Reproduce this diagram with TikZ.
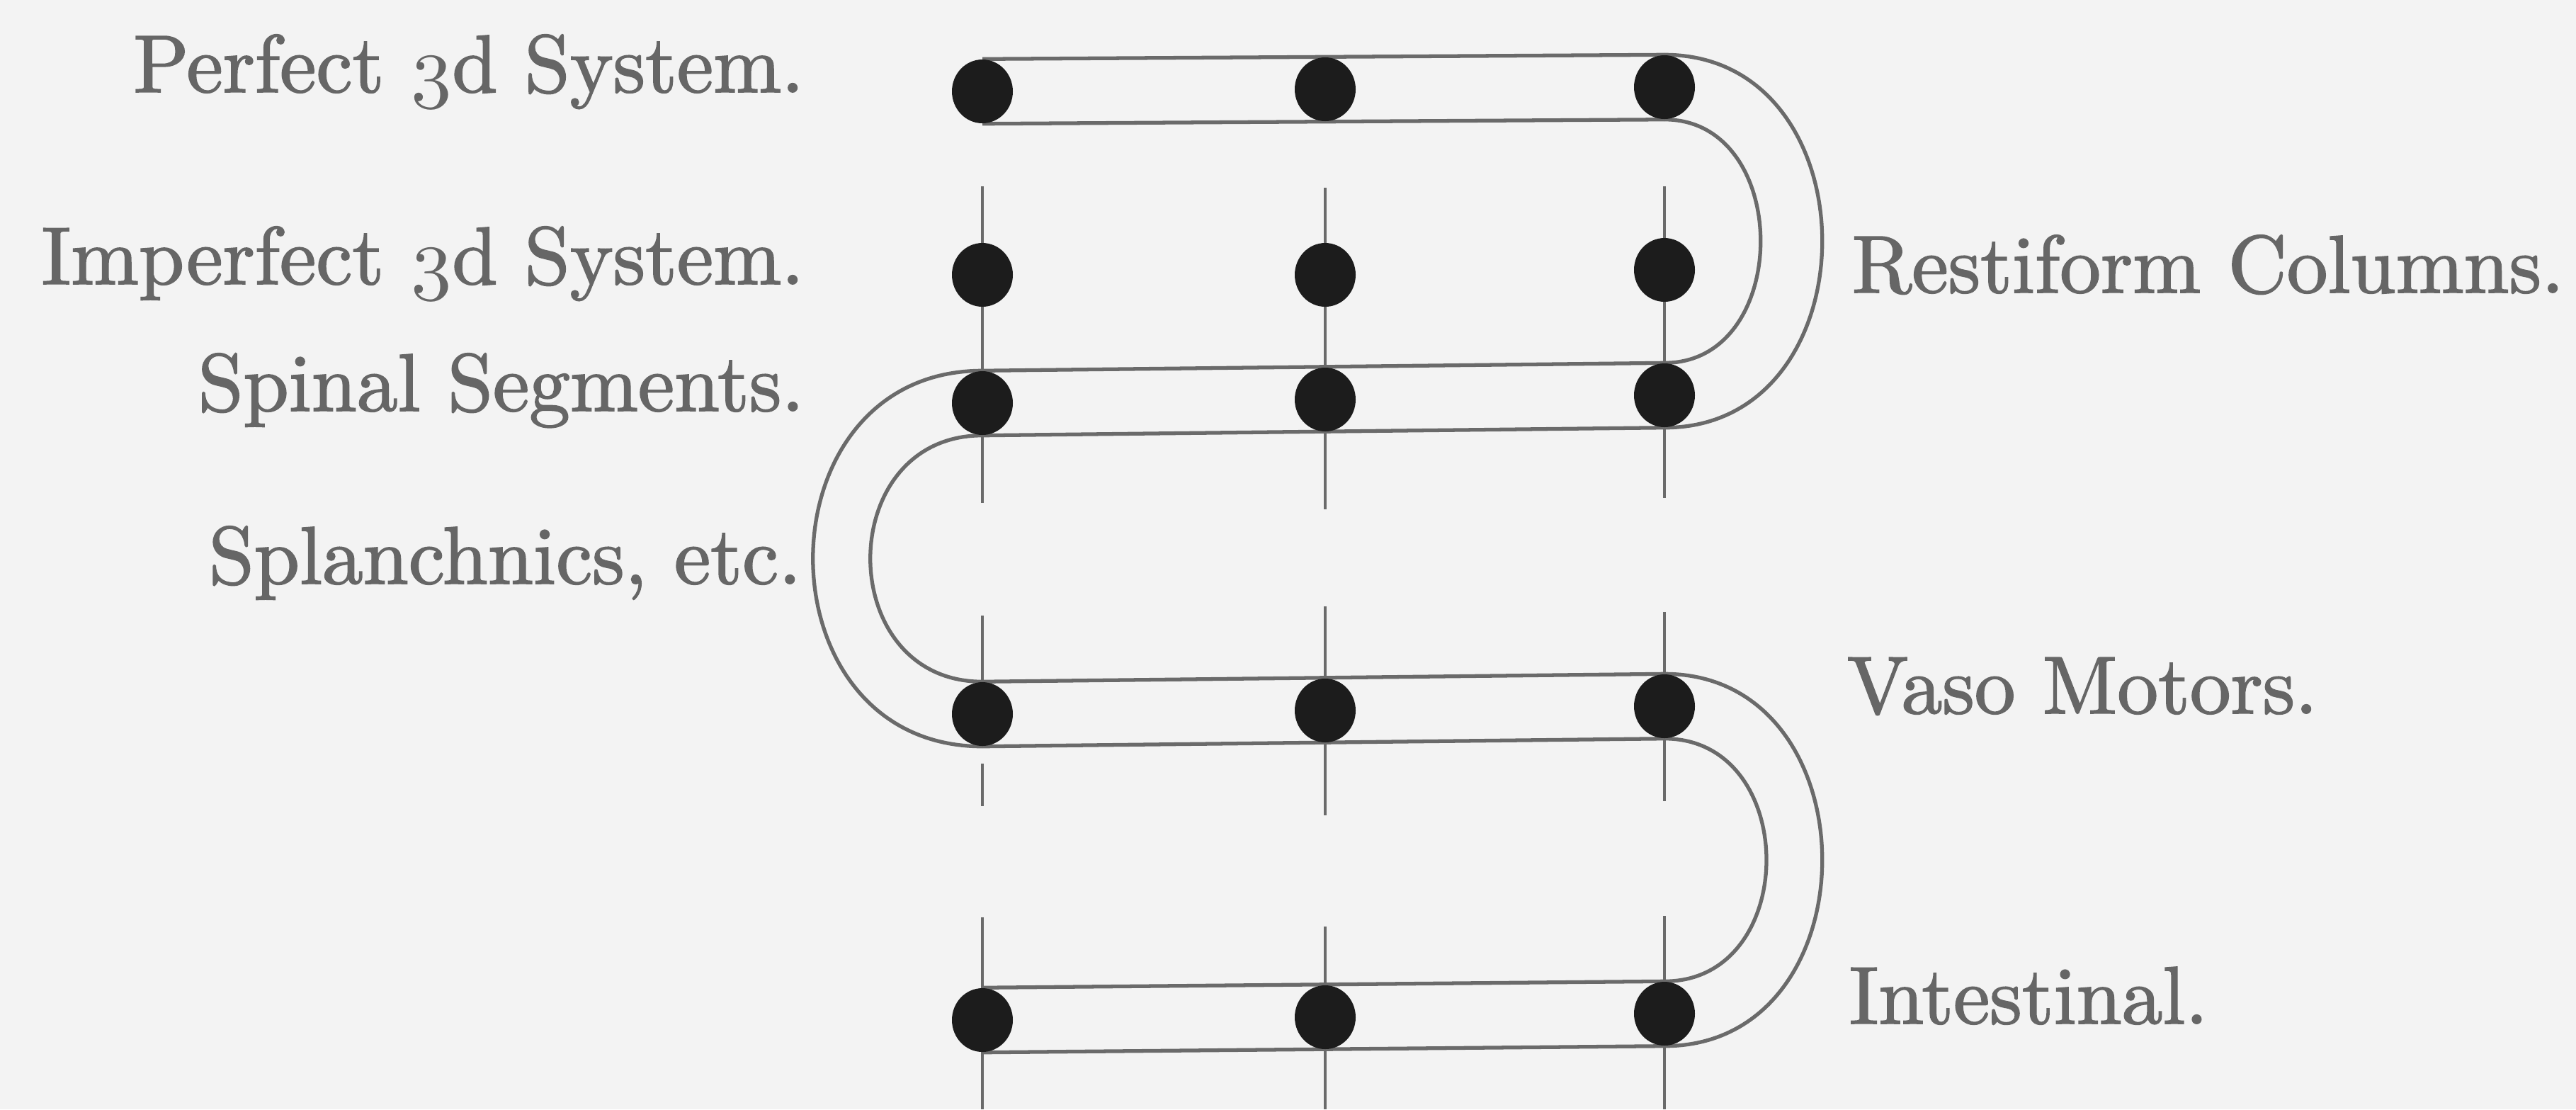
\documentclass[tikz,border=0pt]{standalone}
\usetikzlibrary{shapes.geometric}
\pgfdeclarelayer{paperlayer}
\pgfdeclarelayer{linelayer}
\pgfsetlayers{paperlayer,linelayer,main}
\definecolor{paper}{HTML}{F3F3F3}
\definecolor{ink}{HTML}{6A6A6A}
\definecolor{dotc}{HTML}{1C1C1C}
\definecolor{txt}{HTML}{666666}
\font\labfont="[lmroman10-regular.otf]:embolden=1.6" at 32.8pt
\font\osfnum=cmmi10 at 32.8pt
\newcommand{\three}{{\osfnum 3}}
\tikzset{
  ganglion/.style={ellipse, fill=dotc, draw=none, minimum width=0.86cm, minimum height=0.90cm, inner sep=0pt},
  cord/.style={draw=ink, line width=1.5pt},
  tick/.style={draw=ink, line width=1.3pt},
  lab/.style={text=txt, inner sep=0pt, font=\labfont}
}
\begin{document}
\begin{tikzpicture}
\begin{pgfonlayer}{paperlayer}
  \fill[paper] (0,0) rectangle (36.37,-15.66);
\end{pgfonlayer}
\useasboundingbox (0,0) rectangle (36.37,-15.66);

% ganglia
\node[ganglion] (A1) at (13.87,-1.29) {};
\node[ganglion] (B1) at (18.71,-1.26) {};
\node[ganglion] (C1) at (23.50,-1.23) {};
\node[ganglion] (A2) at (13.87,-3.88) {};
\node[ganglion] (B2) at (18.71,-3.88) {};
\node[ganglion] (C2) at (23.50,-3.81) {};
\node[ganglion] (A3) at (13.87,-5.69) {};
\node[ganglion] (B3) at (18.71,-5.64) {};
\node[ganglion] (C3) at (23.50,-5.58) {};
\node[ganglion] (A4) at (13.87,-10.08) {};
\node[ganglion] (B4) at (18.71,-10.03) {};
\node[ganglion] (C4) at (23.50,-9.97) {};
\node[ganglion] (A5) at (13.87,-14.40) {};
\node[ganglion] (B5) at (18.71,-14.36) {};
\node[ganglion] (C5) at (23.50,-14.31) {};

% labels
\node[lab, anchor=base east] (perfect) at (11.36,-1.30) {Perfect \three d System.};
\node[lab, anchor=base east] (imperfect) at (11.36,-4.01) {Imperfect \three d System.};
\node[lab, anchor=base east] (spinal) at (11.36,-5.80) {Spinal Segments.};
\node[lab, anchor=base east] (splanch) at (11.32,-8.24) {Splanchnics, etc.};
\node[lab, anchor=base west] (restiform) at (26.14,-4.13) {Restiform Columns.};
\node[lab, anchor=base west] (vaso) at (26.07,-10.07) {Vaso Motors.};
\node[lab, anchor=base west] (intest) at (26.10,-14.45) {Intestinal.};

\begin{pgfonlayer}{linelayer}
  % bars
  \foreach \r in {1,3,4,5}{
    \draw[cord] (A\r.north) -- (C\r.north);
    \draw[cord] (A\r.south) -- (C\r.south);
  }
  % loops
  \draw[cord] (C1.north) .. controls +(2.97,0) and +(2.97,0) .. (C3.south);
  \draw[cord] (C1.south) .. controls +(1.81,0) and +(1.81,0) .. (C3.north);
  \draw[cord] (A3.north) .. controls +(-3.19,0) and +(-3.19,0) .. (A4.south);
  \draw[cord] (A3.south) .. controls +(-2.11,0) and +(-2.11,0) .. (A4.north);
  \draw[cord] (C4.north) .. controls +(2.97,0) and +(2.97,0) .. (C5.south);
  \draw[cord] (C4.south) .. controls +(1.92,0) and +(1.92,0) .. (C5.north);
  % vertical nerve lines
  \draw[tick] ([yshift=1.25cm]A2.center) -- ([yshift=-1.41cm]A3.center);
  \draw[tick] ([yshift=1.23cm]B2.center) -- ([yshift=-1.55cm]B3.center);
  \draw[tick] ([yshift=1.18cm]C2.center) -- ([yshift=-1.45cm]C3.center);
  \draw[tick] ([yshift=1.39cm]A4.center) -- (A4.center);
  \draw[tick] ([yshift=-0.70cm]A4.center) -- ([yshift=-1.30cm]A4.center);
  \draw[tick] ([yshift=1.47cm]B4.center) -- ([yshift=-1.48cm]B4.center);
  \draw[tick] ([yshift=1.33cm]C4.center) -- ([yshift=-1.34cm]C4.center);
  \draw[tick] ([yshift=1.45cm]A5.center) -- ([yshift=-1.26cm]A5.center);
  \draw[tick] ([yshift=1.28cm]B5.center) -- ([yshift=-1.30cm]B5.center);
  \draw[tick] ([yshift=1.38cm]C5.center) -- ([yshift=-1.35cm]C5.center);
\end{pgfonlayer}
\end{tikzpicture}
\end{document}
